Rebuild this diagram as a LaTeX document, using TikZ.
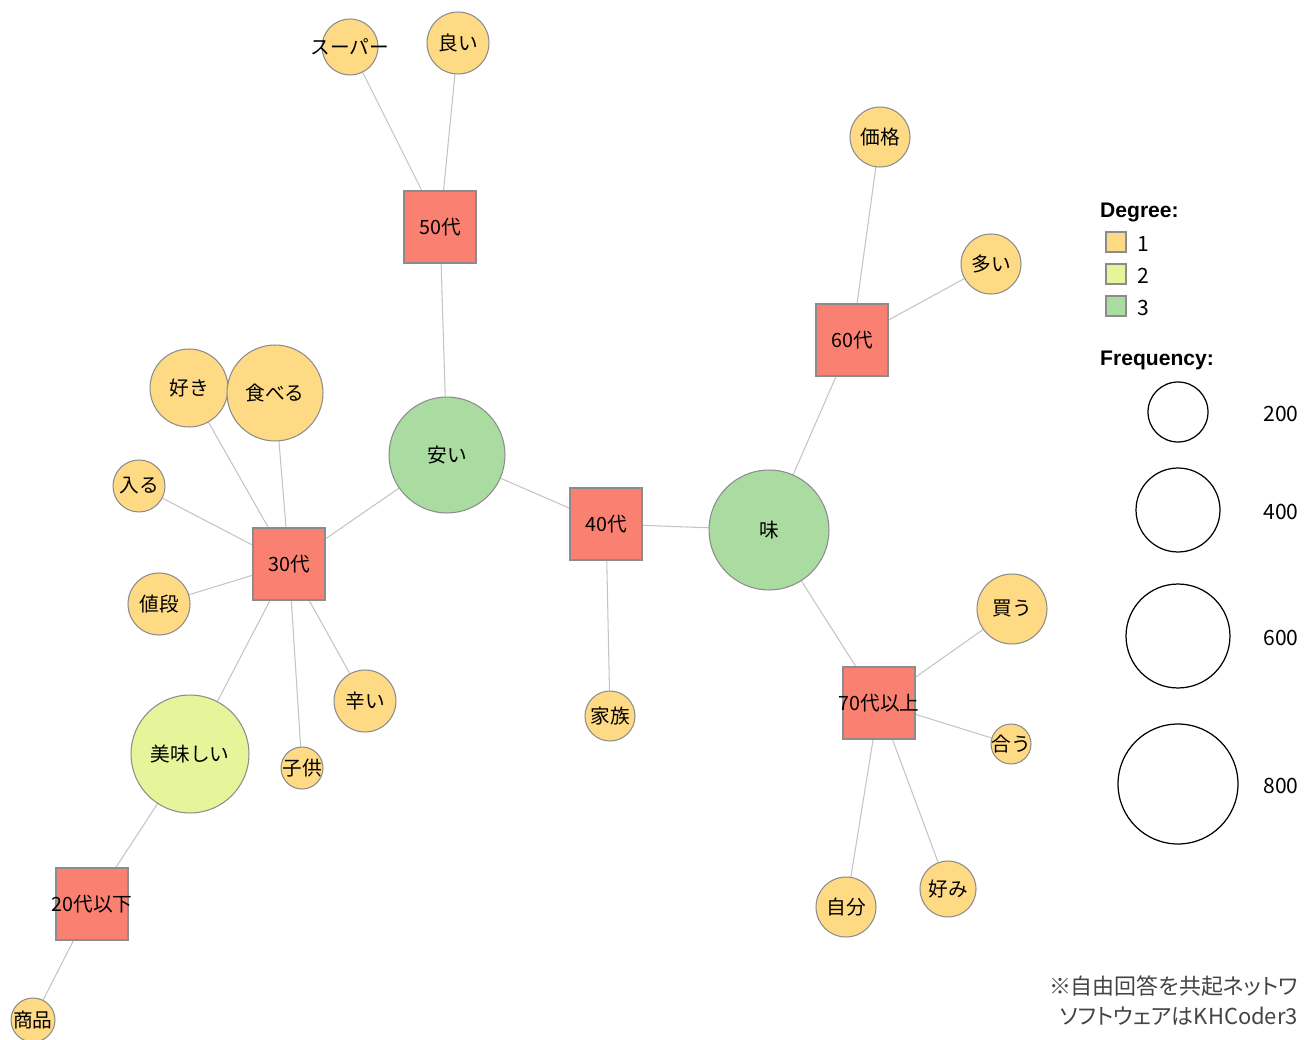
\documentclass[tikz,border=0pt]{standalone}
\usepackage{fontspec}
\setmainfont{Noto Sans CJK JP}
\newfontfamily\legendfont{Liberation Sans}
\newfontfamily\notefont{Noto Sans CJK JP}[RawFeature=+palt]
\usetikzlibrary{backgrounds}
\definecolor{degone}{HTML}{FFDA85}
\definecolor{degtwo}{HTML}{E6F59A}
\definecolor{degthree}{HTML}{AADBA0}
\definecolor{agered}{HTML}{FA8072}
\definecolor{edgegray}{HTML}{C4C4C4}
\definecolor{rimgray}{HTML}{8C8C8C}
\definecolor{notegray}{HTML}{444444}
\tikzset{
    word/.style={circle, draw=rimgray, fill=degone, line width=0.6pt, minimum size=#1*0.04cm, inner sep=0pt},
    age/.style={rectangle, draw=rimgray, fill=agered, line width=0.8pt, minimum size=1.44cm, inner sep=0pt},
    link/.style={draw=edgegray, line width=0.6pt},
    sizekey/.style={circle, draw=black, line width=0.7pt, minimum size=#1*0.04cm, inner sep=0pt},
    degkey/.style={rectangle, draw=rimgray, line width=0.8pt, minimum size=0.4cm, inner sep=0pt},
}
\begin{document}
\begin{tikzpicture}[x=0.02cm, y=-0.02cm, font=\fontsize{11.2pt}{13pt}\selectfont]
    \useasboundingbox (0,0) rectangle (1305,1040);
    % age groups
    \node[age, label=center:50代] (a50) at (440,227) {};
    \node[age, label=center:60代] (a60) at (852,340) {};
    \node[age, label=center:30代] (a30) at (289,564) {};
    \node[age, label=center:40代] (a40) at (606,524) {};
    \node[age, label=center:70代以上] (a70) at (879,703) {};
    \node[age, label=center:20代以下] (a20) at (92,904) {};
    % words
    \node[word=28, label=center:スーパー] (super) at (350,47) {};
    \node[word=31, label=center:良い] (yoi) at (458,43) {};
    \node[word=30, label=center:価格] (kakaku) at (880,137) {};
    \node[word=30, label=center:多い] (ooi) at (991,264) {};
    \node[word=39, label=center:好き] (suki) at (189,388) {};
    \node[word=48, label=center:食べる] (taberu) at (275,393) {};
    \node[word=58, fill=degthree, label=center:安い] (yasui) at (447,455) {};
    \node[word=26, label=center:入る] (hairu) at (139,486) {};
    \node[word=31, label=center:値段] (nedan) at (159,604) {};
    \node[word=60, fill=degthree, label=center:味] (aji) at (769,530) {};
    \node[word=35, label=center:買う] (kau) at (1012,609) {};
    \node[word=31, label=center:辛い] (karai) at (365,701) {};
    \node[word=25, label=center:家族] (kazoku) at (610,716) {};
    \node[word=59, fill=degtwo, label=center:美味しい] (oishii) at (190,754) {};
    \node[word=21, label=center:子供] (kodomo) at (302,768) {};
    \node[word=20, label=center:合う] (au) at (1011,744) {};
    \node[word=28, label=center:好み] (konomi) at (948,889) {};
    \node[word=30, label=center:自分] (jibun) at (846,907) {};
    \node[word=22, label=center:商品] (shohin) at (33,1020) {};
    % edges
    \begin{scope}[on background layer]
        \foreach \a/\b in {super/a50, yoi/a50, a50/yasui, yasui/a30, yasui/a40,
            a40/aji, a40/kazoku, aji/a60, a60/kakaku, a60/ooi, aji/a70,
            a70/kau, a70/au, a70/konomi, a70/jibun, a30/suki, a30/taberu,
            a30/hairu, a30/nedan, a30/karai, a30/kodomo, a30/oishii,
            oishii/a20, a20/shohin}
            \draw[link] (\a) -- (\b);
    \end{scope}
    % legend
    \node[font=\legendfont\bfseries\fontsize{12pt}{14pt}\selectfont, anchor=west] (degtitle) at (1094,212) {Degree:};
    \foreach \i/\c/\y in {1/degone/242, 2/degtwo/274, 3/degthree/306} {
        \node[degkey, fill=\c] (key\i) at (1116,\y) {};
        \node[anchor=west, font=\fontsize{12pt}{14pt}\selectfont] (keytext\i) at ([xshift=0.1cm,yshift=-0.03cm]key\i.east) {\i};
    }
    \node[font=\legendfont\bfseries\fontsize{12pt}{14pt}\selectfont, anchor=west] (freqtitle) at (1094,360) {Frequency:};
    \foreach \f/\r/\y in {200/30/412, 400/42/510, 600/52/636, 800/60/784} {
        \node[sizekey=\r] (freq\f) at (1178,\y) {};
        \node[font=\fontsize{12pt}{14pt}\selectfont] (freqtext\f) at (1281,\y+2) {\f};
    }
    % note
    \node[anchor=east, text=notegray, font=\notefont\fontsize{12.5pt}{15pt}\selectfont] (note1) at (1304,986) {※自由回答を共起ネットワ};
    \node[anchor=east, text=notegray, font=\notefont\fontsize{12.5pt}{15pt}\selectfont] (note2) at (1304,1016) {ソフトウェアはKHCoder3};
\end{tikzpicture}
\end{document}
